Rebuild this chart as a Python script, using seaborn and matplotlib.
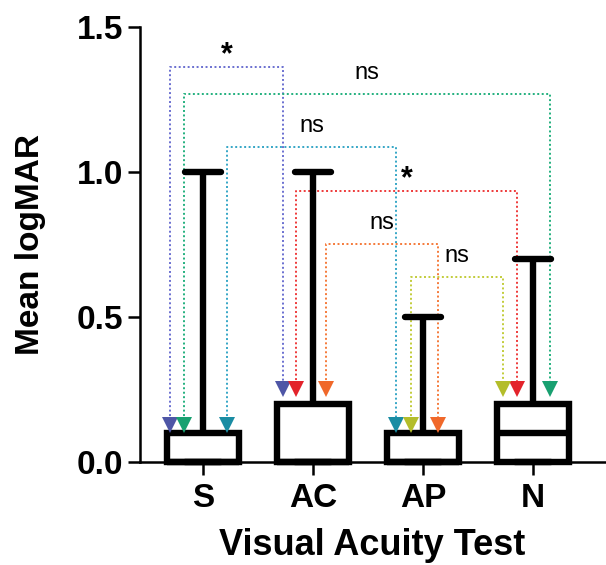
import numpy as np
import pandas as pd
import matplotlib
matplotlib.use("Agg")
import matplotlib.pyplot as plt
import seaborn as sns

# five-number summaries
tests = ["S", "AC", "AP", "N"]
mins = [0.0, 0.0, 0.0, 0.0]
q1s = [0.0, 0.0, 0.0, 0.0]
medians = [0.0, 0.0, 0.0, 0.1]
q3s = [0.1, 0.2, 0.1, 0.2]
maxs = [1.0, 1.0, 0.5, 0.7]

# pairwise comparisons
comp_a = ["S", "S", "S", "AC", "AC", "AP"]
comp_b = ["AC", "N", "AP", "N", "AP", "N"]
comp_label = ["*", "ns", "ns", "*", "ns", "ns"]

# build long table so that the quartiles come out as above
rows = []
for t, a, b, c, d, e in zip(tests, mins, q1s, medians, q3s, maxs):
    for v in (a, b, c, d, e):
        rows.append({"test": t, "logMAR": v})
df = pd.DataFrame(rows)

sns.set_style("ticks")
plt.rcParams["font.family"] = ["Liberation Sans", "DejaVu Sans"]
for k in ["text.color", "axes.labelcolor", "xtick.color", "ytick.color", "axes.edgecolor"]:
    plt.rcParams[k] = "black"

fig = plt.figure(figsize=(6.06, 5.65), dpi=100)
ax = fig.add_axes([140 / 606, 1 - 462 / 565, 465 / 606, 435 / 565])

sns.boxplot(data=df, x="test", y="logMAR", order=tests, whis=(0, 100),
            width=0.66, color="white", linecolor="black", linewidth=4.6,
            showfliers=False, ax=ax)
for art in ax.patches + ax.lines:
    art.set_clip_on(False)

# bracket styling / layout
line_cols = ["#6a6fd0", "#22b07e", "#35a6c6", "#ee3a3a", "#f57a3a", "#c2cc3a"]
tri_cols = ["#4e56a6", "#18a070", "#1a8ca3", "#e3232b", "#f0682a", "#b3bd2b"]
off_a = [-0.30, -0.173, 0.218, -0.155, 0.118, -0.109]
off_b = [-0.273, 0.155, -0.245, -0.145, 0.136, -0.273]
tops = [1.362, 1.269, 1.086, 0.934, 0.752, 0.638]
tip_level = {"S": 0.128, "AC": 0.252, "AP": 0.128, "N": 0.252}

for i in range(len(comp_a)):
    xa = tests.index(comp_a[i]) + off_a[i]
    xb = tests.index(comp_b[i]) + off_b[i]
    ya = tip_level[comp_a[i]]
    yb = tip_level[comp_b[i]]
    top = tops[i]
    ax.plot([xa, xa, xb, xb], [ya, top, top, yb], color=line_cols[i],
            lw=1.4, ls=(0, (1, 1.3)), zorder=1)
    ax.plot([xa, xb], [ya, yb], ls="none", marker="v", markersize=11.5,
            color=tri_cols[i], markeredgewidth=0, zorder=3)
    if comp_label[i] == "*":
        ax.text((xa + xb) / 2, top + 0.012, "*", ha="center", va="baseline",
                fontsize=22, fontweight="bold")
    else:
        ax.text((xa + xb) / 2, top + 0.052, "ns", ha="center", va="baseline",
                fontsize=17)

ax.set_xlim(-0.573, 3.655)
ax.set_ylim(0, 1.5)
ax.set_yticks([0, 0.5, 1.0, 1.5])
ax.set_yticklabels(["0.0", "0.5", "1.0", "1.5"])
sns.despine(ax=ax)
for s in ["left", "bottom"]:
    ax.spines[s].set_linewidth(1.8)
ax.tick_params(axis="both", length=9, width=1.8, labelsize=24, pad=3)
ax.tick_params(axis="x", pad=6)
for lab in ax.get_xticklabels() + ax.get_yticklabels():
    lab.set_fontweight("bold")

ax.set_xlabel("Visual Acuity Test", fontsize=26, fontweight="bold", labelpad=10)
ax.set_ylabel("Mean logMAR", fontsize=24, fontweight="bold", labelpad=22)

fig.savefig("out.png", dpi=100)
